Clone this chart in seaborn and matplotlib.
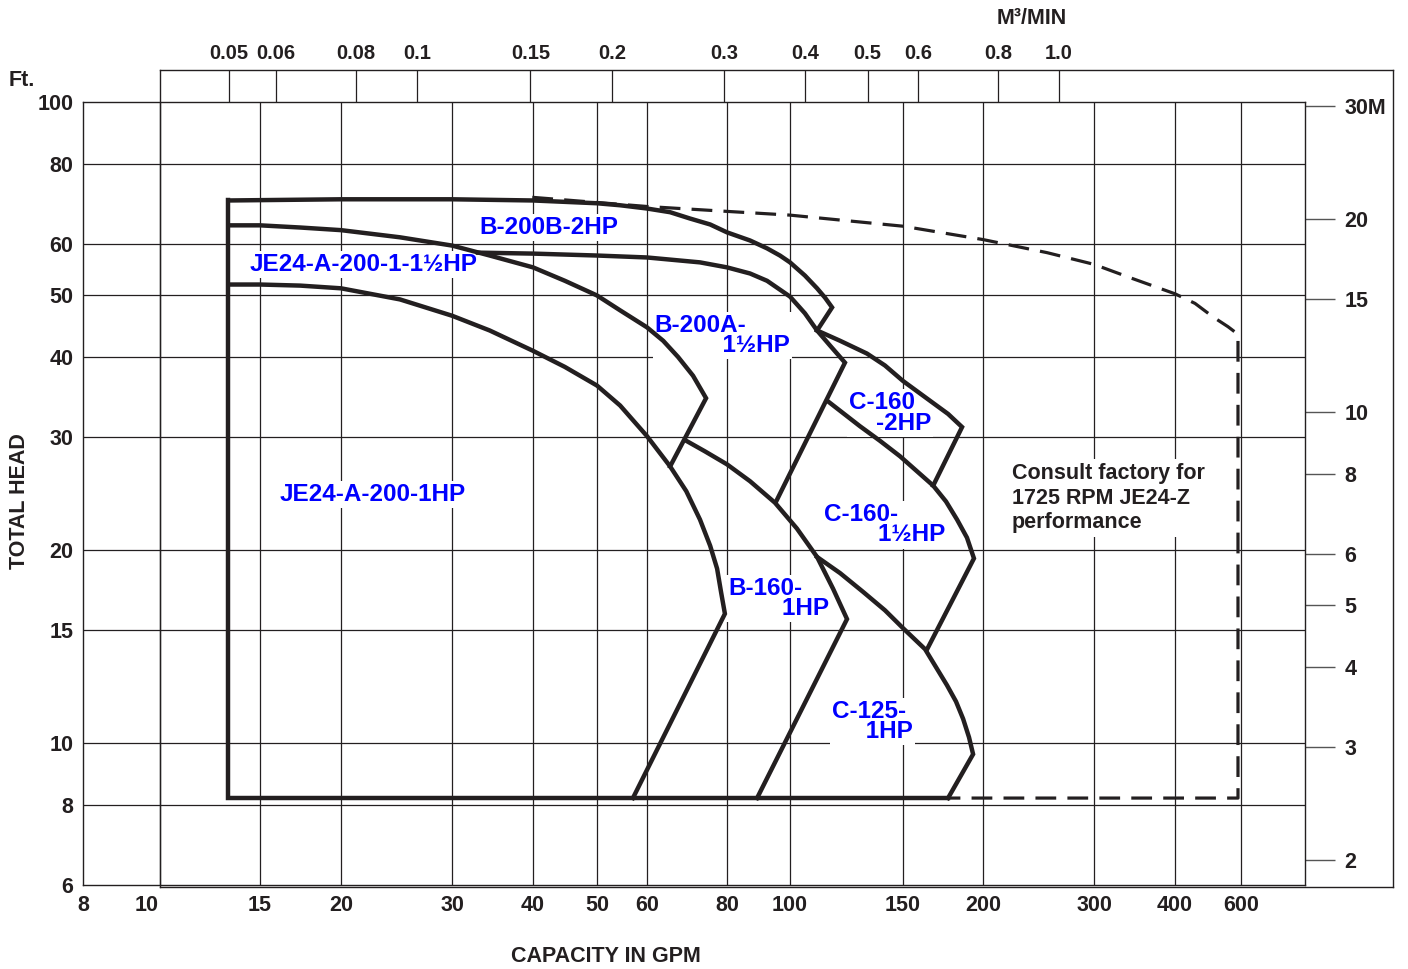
import numpy as np
import pandas as pd
import matplotlib.pyplot as plt
import matplotlib.transforms as mtransforms
import seaborn as sns

# capacity axis of the printed chart: grid values and their spacing along the axis
GRID_GPM = [8, 10, 15, 20, 30, 40, 50, 60, 80, 100, 150, 200, 300, 400, 600, 800]
GRID_POS = [0, 77, 177, 258, 369, 450, 514, 564, 644, 707, 820, 900, 1011, 1092, 1158, 1222]

GPM_TICKS = [8, 10, 15, 20, 30, 40, 50, 60, 80, 100, 150, 200, 300, 400, 600]
HEAD_TICKS = [6, 8, 10, 15, 20, 30, 40, 50, 60, 80, 100]
METER_TICKS = [2, 3, 4, 5, 6, 8, 10, 15, 20, 30]
METER_LABELS = ["2", "3", "4", "5", "6", "8", "10", "15", "20", "30M"]
M3_TICKS = [0.05, 0.06, 0.08, 0.1, 0.15, 0.2, 0.3, 0.4, 0.5, 0.6, 0.8, 1.0]
M3_LABELS = ["0.05", "0.06", "0.08", "0.1", "0.15", "0.2", "0.3", "0.4", "0.5", "0.6", "0.8", "1.0"]
GPM_PER_M3MIN = 264.17
M_PER_FT = 0.3048

# pump curves (GPM, feet of head)
ENVELOPE_GPM = [13.2, 13.2, 176.4]
ENVELOPE_FT = [70.2, 8.2, 8.2]

B200B_2HP_GPM = [13.2, 20, 30, 40, 50, 54.4, 60, 65.2, 70.0, 75.3, 80, 86.8, 92.2, 96.5,
                 100, 105.5, 110.2, 113.4, 116.3, 110.2]
B200B_2HP_FT = [70.2, 70.5, 70.5, 70.2, 69.5, 69.0, 68.2, 67.3, 65.8, 64.4, 62.6, 60.8, 59.1, 57.6,
                56.2, 53.6, 51.2, 49.5, 47.8, 44.0]

JE_1_5HP_GPM = [13.2, 15, 17.3, 20, 24.8, 30, 34.3, 40, 44.7, 50, 54.4, 60, 63.6, 67.1, 70.8,
                74.2, 65.2]
JE_1_5HP_FT = [64.2, 64.2, 63.7, 63.1, 61.5, 59.7, 57.6, 55.2, 52.6, 49.9, 47.3, 44.5, 42.4, 40.0,
               37.4, 34.5, 27.0]

B200A_GPM = [32.9, 40, 50, 60, 72.6, 80, 86.8, 92.2, 100, 105.5, 110.2, 115.4, 121.8, 95.2]
B200A_FT = [58.2, 58.0, 57.6, 57.2, 56.2, 55.2, 54.0, 52.6, 49.7, 46.8, 44.0, 41.7, 39.2, 23.8]

C160_2HP_GPM = [110.2, 119.7, 131.8, 140.6, 150, 167.2, 176.4, 185.5, 167.2]
C160_2HP_FT = [44.0, 42.4, 40.5, 38.8, 36.7, 33.9, 32.6, 31.1, 25.2]

JE_1HP_GPM = [13.2, 15, 17.3, 20, 24.8, 30, 34.3, 40, 44.7, 50, 54.4, 60, 65.2, 69.1, 72.6,
              75.3, 77.2, 78.3, 79.4, 57.0]
JE_1HP_FT = [51.9, 51.9, 51.7, 51.2, 49.2, 46.4, 44.0, 40.9, 38.6, 36.1, 33.6, 30.1, 27.0, 24.7,
             22.3, 20.3, 18.7, 17.2, 15.9, 8.2]

B160_GPM = [69.1, 73.9, 80, 86.8, 94.8, 102.5, 110.2, 116.7, 122.7, 89.0]
B160_FT = [29.6, 28.5, 27.2, 25.6, 23.7, 21.6, 19.5, 17.4, 15.6, 8.2]

C160_1_5HP_GPM = [114.2, 128.5, 138.1, 148.4, 167.2, 175.1, 182.2, 188.8, 193.6, 163.6]
C160_1_5HP_FT = [34.2, 31.2, 29.6, 28.0, 25.2, 23.8, 22.3, 20.9, 19.4, 14.0]

C125_GPM = [110.2, 119.7, 130.0, 140.6, 150, 162.4, 175.7, 181.5, 186.2, 190.2, 193.0, 176.4]
C125_FT = [19.5, 18.4, 17.2, 16.1, 15.1, 14.0, 12.3, 11.6, 10.9, 10.2, 9.6, 8.2]

JE24Z_GPM = [39.9, 50, 60, 80, 100, 150, 200, 252.7, 300, 340.9, 400, 452.3, 505.2, 554.0,
             589, 589, 176.4]
JE24Z_FT = [71.0, 69.7, 68.7, 67.5, 66.6, 64.0, 61.0, 58.2, 55.8, 53.2, 50.2, 48.5, 46.2, 44.6,
            43.4, 8.2, 8.2]

LABEL_TEXT = ["B-200B-2HP", "JE24-A-200-1-1½HP", "B-200A-\n          1½HP", "C-160\n    -2HP",
              "JE24-A-200-1HP", "C-160-\n        1½HP", "B-160-\n        1HP", "C-125-\n     1HP"]
LABEL_GPM = [33.1, 14.4, 61.7, 123.6, 16.1, 113.0, 80.3, 116.3]
LABEL_FT = [63.7, 55.8, 43.2, 32.7, 24.4, 21.9, 16.8, 10.8]

NOTE = "Consult factory for\n1725 RPM JE24-Z\nperformance"

INK = "#231f20"
W, H = 1408, 969

sns.set_style("white")
plt.rcParams["font.family"] = ["Liberation Sans", "DejaVu Sans"]
plt.rcParams["font.weight"] = "bold"

LOG_GRID = np.log10(GRID_GPM)


def gpm_forward(x):
    with np.errstate(divide="ignore", invalid="ignore"):
        lx = np.log10(np.asarray(x, dtype=float))
    return np.interp(lx, LOG_GRID, GRID_POS)


def gpm_inverse(p):
    return 10 ** np.interp(np.asarray(p, dtype=float), GRID_POS, LOG_GRID)


def box(x0, y0, x1, y1):
    # pixel box (top-left origin) -> figure fraction rect
    return [x0 / W, 1 - y1 / H, (x1 - x0) / W, (y1 - y0) / H]


fig = plt.figure(figsize=(W / 100, H / 100), dpi=100)

# outer frame of the chart
frame = fig.add_axes(box(160, 70, 1393, 887))
frame.set_xticks([])
frame.set_yticks([])
frame.patch.set_alpha(0)
for s in frame.spines.values():
    s.set_color(INK)
    s.set_linewidth(1.0)

ax = fig.add_axes(box(83, 102, 1305, 885))
ax.patch.set_alpha(0)
ax.set_xscale("function", functions=(gpm_forward, gpm_inverse))
ax.set_yscale("log")
ax.set_xlim(8, 800)
ax.set_ylim(6, 100)

for g in GPM_TICKS[1:]:
    ax.axvline(g, color=INK, lw=0.9, zorder=1)
for h in HEAD_TICKS[1:-1]:
    ax.axhline(h, color=INK, lw=0.9, zorder=1)

curves = [
    (ENVELOPE_GPM, ENVELOPE_FT),
    (B200B_2HP_GPM, B200B_2HP_FT),
    (JE_1_5HP_GPM, JE_1_5HP_FT),
    (B200A_GPM, B200A_FT),
    (C160_2HP_GPM, C160_2HP_FT),
    (JE_1HP_GPM, JE_1HP_FT),
    (B160_GPM, B160_FT),
    (C160_1_5HP_GPM, C160_1_5HP_FT),
    (C125_GPM, C125_FT),
]
for gx, fy in curves:
    df = pd.DataFrame({"gpm": gx, "ft": fy})
    sns.lineplot(data=df, x="gpm", y="ft", sort=False, estimator=None, ax=ax,
                 color=INK, lw=3.2, zorder=4, solid_joinstyle="miter",
                 solid_capstyle="projecting")

dash_df = pd.DataFrame({"gpm": JE24Z_GPM, "ft": JE24Z_FT})
sns.lineplot(data=dash_df, x="gpm", y="ft", sort=False, estimator=None, ax=ax,
             color=INK, lw=2.3, zorder=3, linestyle=(0, (6.5, 3.5)))

# labels sit above the grid but under the curves, so their white boxes only hide grid lines
for t, gx, fy in zip(LABEL_TEXT, LABEL_GPM, LABEL_FT):
    ax.text(gx, fy, t, color="#0000ff", fontsize=17.5, fontweight="bold",
            ha="left", va="center", linespacing=0.85, zorder=2,
            bbox=dict(facecolor="white", edgecolor="none", pad=1.5))

ax.text(222.3, 24.1, NOTE, color=INK, fontsize=15.5, fontweight="bold",
        ha="left", va="center", linespacing=1.2, zorder=2,
        bbox=dict(facecolor="white", edgecolor="none", pad=3))

ax.set_xticks(GPM_TICKS, [str(g) for g in GPM_TICKS])
ax.set_yticks(HEAD_TICKS, [str(h) for h in HEAD_TICKS])
ax.minorticks_off()
ax.tick_params(axis="both", length=0, labelsize=15.5, colors=INK, pad=7)
ax.set_xlabel("")
ax.set_ylabel("")
for s in ax.spines.values():
    s.set_color(INK)
    s.set_linewidth(1.0)

# nudge the "10" label left as on the print
lbl10 = ax.get_xticklabels()[1]
lbl10.set_transform(lbl10.get_transform() +
                    mtransforms.ScaledTranslation(-0.13, 0, fig.dpi_scale_trans))

# metres on the right
sec = ax.secondary_yaxis("right", functions=(lambda f: f * M_PER_FT, lambda m: m / M_PER_FT))
sec.set_yticks(METER_TICKS, METER_LABELS)
sec.minorticks_off()
sec.tick_params(axis="y", direction="out", length=21.5, width=1.0, color="#555555",
                labelsize=15.5, labelcolor=INK, pad=7)
sec.spines["right"].set_visible(False)

# m3/min strip above the plot
top = fig.add_axes(box(83, 70, 1305, 102))
top.patch.set_alpha(0)
top.set_xscale("function", functions=(gpm_forward, gpm_inverse))
top.set_xlim(8, 800)
top.set_ylim(0, 1)
m3_gpm = [m * GPM_PER_M3MIN for m in M3_TICKS]
top.vlines(m3_gpm, 0, 1, color=INK, lw=0.9)
top.set_xticks(m3_gpm, M3_LABELS)
top.minorticks_off()
top.set_yticks([])
top.xaxis.tick_top()
top.tick_params(axis="x", length=0, labelsize=14.5, colors=INK, pad=5)
for s in top.spines.values():
    s.set_visible(False)

fig.text(22 / W, 1 - 80 / H, "Ft.", fontsize=15.5, fontweight="bold", color=INK,
         ha="center", va="center")
fig.text(1032 / W, 1 - 19 / H, "M³/MIN", fontsize=15.5, fontweight="bold", color=INK,
         ha="center", va="center")
fig.text(20 / W, 1 - 501 / H, "TOTAL HEAD", fontsize=15.5, fontweight="bold", color=INK,
         ha="center", va="center", rotation=90)
fig.text(606 / W, 1 - 957 / H, "CAPACITY IN GPM", fontsize=15.5, fontweight="bold",
         color=INK, ha="center", va="center")

fig.savefig("out.png", dpi=100)
